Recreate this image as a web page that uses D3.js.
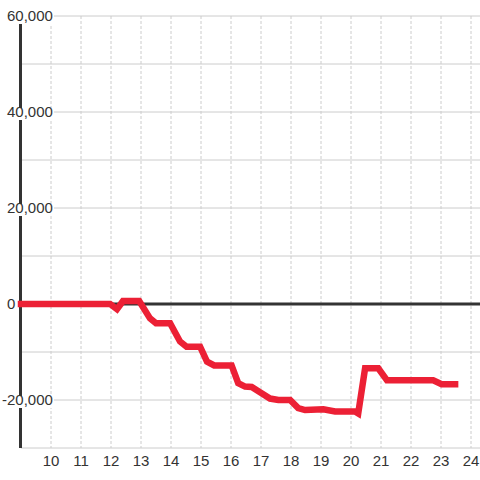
<!DOCTYPE html>
<html>
<head>
<meta charset="utf-8">
<script src="https://cdn.jsdelivr.net/npm/d3@7"></script>
<style>
  body { margin: 0; background: #fff; }
  svg { display: block; font-family: "Liberation Sans", Arial, sans-serif; }
  .tick-label { font-size: 15px; fill: #333; }
</style>
</head>
<body>
<div id="chart"></div>
<script>
"use strict";

// Data
// ----

var hours  = [9, 11.97, 12.2, 12.4, 12.94, 13.3, 13.5, 13.97, 14.3, 14.52, 14.97,
              15.2, 15.44, 16.02, 16.24, 16.47, 16.69, 17.02, 17.3, 17.58, 17.97,
              18.24, 18.47, 19.08, 19.47, 20.13, 20.24, 20.47, 20.91, 21.2, 22.74,
              23.02, 23.47];
var values = [0, 0, -1100, 600, 600, -3000, -4000, -4000, -7800, -8900, -8900,
              -12000, -12800, -12800, -16500, -17200, -17300, -18600, -19700, -20000, -20000,
              -21700, -22100, -21950, -22400, -22400, -22800, -13400, -13400, -15900, -15900,
              -16700, -16700];

var xTicks = [10, 11, 12, 13, 14, 15, 16, 17, 18, 19, 20, 21, 22, 23, 24];
var yGrid  = [-30000, -20000, -10000, 0, 10000, 20000, 30000, 40000, 50000, 60000];
var yTicks = [-20000, 0, 20000, 40000, 60000];


// Box sizing
// ----------

var W = 480, H = 480,
    plotLeft = 21, plotRight = 480, plotTop = 16, plotBottom = 448;

var svg = d3.select("#chart").append("svg")
    .attr("width", W)
    .attr("height", H);

var x = d3.scaleLinear().domain([9, 24.3]).range([plotLeft, plotRight]);
var y = d3.scaleLinear().domain([-30000, 60000]).range([plotBottom, plotTop]);


// Grid
// ----

svg.append("g").selectAll("line")
    .data(xTicks)
    .join("line")
    .attr("x1", function(d) { return x(d); })
    .attr("x2", function(d) { return x(d); })
    .attr("y1", plotTop)
    .attr("y2", plotBottom)
    .attr("stroke", "#ccc")
    .attr("stroke-width", 1)
    .attr("stroke-dasharray", "3,2");

svg.append("g").selectAll("line")
    .data(yGrid.filter(function(d) { return d != 0; }))
    .join("line")
    .attr("x1", plotLeft)
    .attr("x2", W)
    .attr("y1", function(d) { return y(d); })
    .attr("y2", function(d) { return y(d); })
    .attr("stroke", "#ccc")
    .attr("stroke-width", 1);

// zero line and vertical axis
svg.append("line")
    .attr("x1", plotLeft).attr("x2", W)
    .attr("y1", y(0)).attr("y2", y(0))
    .attr("stroke", "#333")
    .attr("stroke-width", 3);

svg.append("line")
    .attr("x1", plotLeft - 0.5).attr("x2", plotLeft - 0.5)
    .attr("y1", plotTop).attr("y2", plotBottom)
    .attr("stroke", "#333")
    .attr("stroke-width", 3);


// Labels
// ------

var fmt = d3.format(",");

var yl = svg.append("g").selectAll("g")
    .data(yTicks)
    .join("g")
    .attr("transform", function(d) { return "translate(0," + (y(d) + 5) + ")"; });

yl.append("rect")
    .attr("fill", "#fff");

yl.append("text")
    .attr("class", "tick-label")
    .attr("x", function(d) { return d < 0 ? 2 : 7; })
    .attr("text-anchor", "start")
    .text(function(d) { return d < 0 ? "-" + fmt(-d) : fmt(d); })
    .each(function() {
      var b = this.getBBox();
      d3.select(this.parentNode).select("rect")
          .attr("x", b.x - 1)
          .attr("y", -9)
          .attr("width", b.width + 2)
          .attr("height", 12);
    });

svg.append("g").selectAll("text")
    .data(xTicks)
    .join("text")
    .attr("class", "tick-label")
    .attr("x", function(d) { return x(d); })
    .attr("y", 466)
    .attr("text-anchor", "middle")
    .text(function(d) { return d; });


// Curve
// -----

var pts = hours.map(function(h, i) { return [h, values[i]]; });

svg.append("path")
    .datum(pts)
    .attr("fill", "none")
    .attr("stroke", "#ec2035")
    .attr("stroke-width", 6.5)
    .attr("stroke-linecap", "square")
    .attr("stroke-linejoin", "miter")
    .attr("d", d3.line()
        .x(function(d) { return x(d[0]); })
        .y(function(d) { return y(d[1]); }));

</script>
</body>
</html>
